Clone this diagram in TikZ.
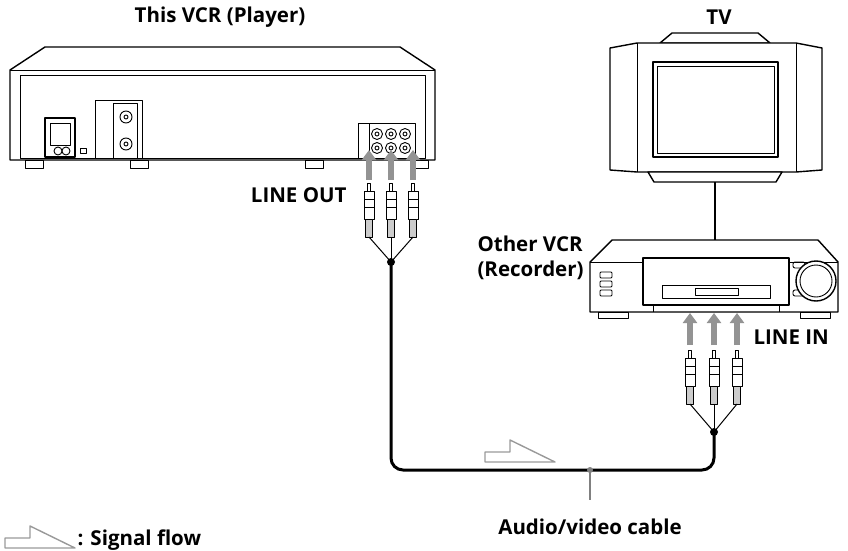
\documentclass[tikz,border=0pt]{standalone}
\usepackage{fontspec}
\setmainfont{Open Sans}
\usetikzlibrary{arrows.meta}
\begin{document}
\begin{tikzpicture}[x=1pt,y=-1pt,line join=round,
	part/.style={draw, line width=1.4pt, fill=white},
	thin part/.style={draw, line width=0.9pt},
	cable/.style={line width=3pt, rounded corners=12pt},
	flow/.style={gray!85, line width=6pt, -{Triangle[width=14pt,length=10pt]}},
	label/.style={font=\bfseries\fontsize{20.5}{25}\selectfont}]

	\useasboundingbox (0,0) rectangle (848,551);

	%plug: x, top y
	\newcommand\rcaplug[2]{
		\draw[thin part] (#1-1.5,#2) rectangle (#1+1.5,#2+8);
		\draw[thin part, fill=white] (#1-5,#2+8) rectangle (#1+5,#2+36);
		\draw[thin part] (#1-5,#2+16) -- (#1+5,#2+16) (#1-5,#2+24) -- (#1+5,#2+24);
		\draw[thin part, fill=gray!40] (#1-3.5,#2+36) rectangle (#1+3.5,#2+54);
	}

	%hollow signal arrow: x, y of upper left corner
	\newcommand\flowarrow[2]{
		\draw[gray!80, line width=1.4pt] (#1,#2+12) -- (#1+25,#2+12) -- (#1+25,#2)
			-- (#1+70,#2+22) -- (#1,#2+22) -- cycle;
	}

	%player, rear view
	\draw[part] (10,70) -- (45,47) -- (400,47) -- (435,70) -- (435,160) -- (10,160) -- cycle;
	\draw[thin part] (10,70) -- (435,70) (20,75) rectangle (425,158);
	\foreach \fx in {25,130,305,410}
		\draw[thin part] (\fx,160) rectangle (\fx+18,168);
	\draw[part] (45,118) rectangle (75,157);
	\draw[thin part] (50,123) rectangle (70,145);
	\draw[thin part] (58,151) circle (4) (66,151) circle (4);
	\draw[thin part] (80,148) rectangle (86,153);
	\draw[thin part] (95,100) rectangle (142,158) (113,103) rectangle (137,158);
	\foreach \jy in {117,144}
		\draw[thin part] (126,\jy) circle (6) (126,\jy) circle (2);
	\draw[thin part] (358,123) rectangle (415,158) (369,123) -- (369,158);
	\foreach \jx in {377,391,405}
		\foreach \jy in {134,148}
			\draw[thin part] (\jx,\jy) circle (5.5) (\jx,\jy) circle (2);

	%TV
	\draw[part] (660,43) -- (672,33) -- (758,33) -- (770,43) -- cycle;
	\draw[part] (610,48) -- (637,43) -- (796,43) -- (822,48) -- (822,170) -- (796,172) -- (637,172) -- (610,170) -- cycle;
	\draw[thin part] (637,43) -- (637,172) (796,43) -- (796,172);
	\draw[part] (653,62) rectangle (778,157);
	\draw[thin part] (657,66) rectangle (774,153);
	\draw[part] (648,172) -- (782,172) -- (776,182) -- (654,182) -- cycle;
	\coordinate (tvbase) at (715,182);

	%recorder
	\draw[part] (590,262) -- (612,240) -- (818,240) -- (838,262) -- (838,312) -- (590,312) -- cycle;
	\draw[thin part] (590,262) -- (838,262);
	\foreach \fx in {598,800}
		\draw[thin part] (\fx,312) rectangle (\fx+30,318);
	\draw[part] (643,258) rectangle (789,305);
	\draw[thin part] (662,285) rectangle (770,298) (695,288) rectangle (738,295);
	\draw[thin part] (653,305) -- (653,312) (779,305) -- (779,312);
	\foreach \by in {275,284,293}
		\draw[thin part, rounded corners=1pt] (600,\by-3) rectangle (612,\by+3);
	\foreach \by in {265,293}
		\draw[thin part, rounded corners=2pt] (793,\by-3) rectangle (805,\by+3);
	\draw[part] (816,281) circle (20);
	\draw[thin part] (816,281) circle (16);
	\coordinate (vcrtop) at (715,240);
	\draw[line width=2.6pt] (tvbase) -- (vcrtop);

	%plugs, arrows and cable
	\coordinate (outjoin) at (391,262);
	\coordinate (injoin) at (714,432);
	\foreach \px in {369,391,413} {
		\draw[flow] (\px,180) -- (\px,150);
		\rcaplug{\px}{183}
		\draw[line width=1pt] (\px,237) -- (outjoin);
	}
	\foreach \px in {690,714,737} {
		\draw[flow] (\px,345) -- (\px,313);
		\rcaplug{\px}{350}
		\draw[line width=1pt] (\px,404) -- (injoin);
	}
	\fill (outjoin) circle (4) (injoin) circle (4);
	\coordinate (tick) at (590,470);
	\draw[cable] (outjoin) -- (391,470) -- (714,470) -- (injoin);
	\fill[gray] (tick) circle (3);
	\draw[gray, line width=1.4pt] (tick) -- (590,500);
	\flowarrow{485}{440}
	\flowarrow{5}{526}

	%labels
	\node[label] (player) at (220,17) {This VCR (Player)};
	\node[label] (tv) at (719,17) {TV};
	\node[label, anchor=east] (lineout) at (350,195) {LINE OUT};
	\node[label, anchor=west] (linein) at (750,337) {LINE IN};
	\node[label, anchor=west, align=left] (recorder) at (474,258) {Other VCR\\(Recorder)};
	\node[label] (cablelabel) at (590,527) {Audio/video cable};
	\node[label, anchor=west] (legend) at (74,540) {: Signal flow};
\end{tikzpicture}
\end{document}
